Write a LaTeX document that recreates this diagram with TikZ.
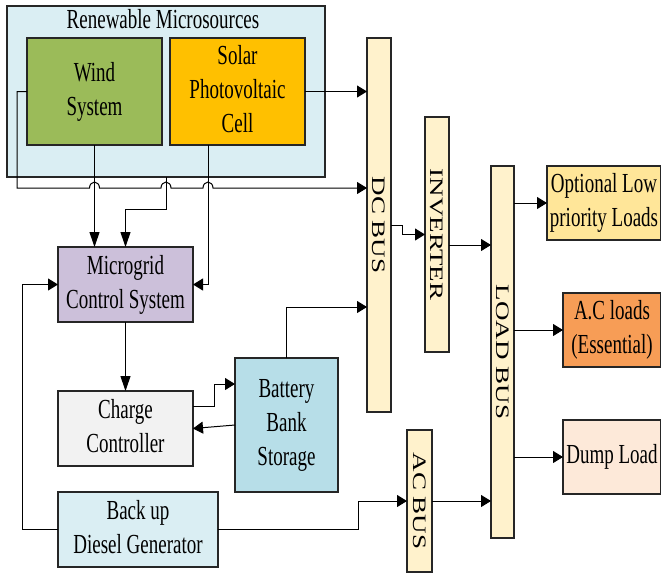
\documentclass[tikz,border=0pt]{standalone}
\usepackage{fontspec}
\setmainfont{Liberation Serif}
\usepackage{graphicx}
\usetikzlibrary{arrows.meta,calc}
\definecolor{renfill}{HTML}{DAEEF3}
\definecolor{windfill}{HTML}{9BBB59}
\definecolor{solarfill}{HTML}{FFC000}
\definecolor{busfill}{HTML}{FFF2CC}
\definecolor{mcsfill}{HTML}{CCC0DA}
\definecolor{ccfill}{HTML}{F2F2F2}
\definecolor{batfill}{HTML}{B7DEE8}
\definecolor{dgfill}{HTML}{DAEEF3}
\definecolor{optfill}{HTML}{FFE699}
\definecolor{aclfill}{HTML}{F79D56}
\definecolor{dumpfill}{HTML}{FDE9D9}
\definecolor{boxline}{HTML}{262626}
\newcommand\tx[1]{\scalebox{1}[1.45]{\begin{tabular}{@{}c@{}}#1\end{tabular}}}
\newcommand\rt[1]{\scalebox{1}[1.42]{\rotatebox{-90}{#1}}}
\begin{document}
\begin{tikzpicture}[x=1pt,y=-1pt,
  every node/.style={font=\fontsize{19}{23.5}\selectfont},
  box/.style={draw=boxline, line width=1.1pt, inner sep=0pt, outer sep=0pt},
  conn/.style={line width=1pt, draw=black},
  arrH/.style={conn, -{Triangle[length=10pt,width=12pt]}},
  arrV/.style={conn, -{Triangle[length=15pt,width=10pt]}}]
\useasboundingbox (0,0) rectangle (661,574);
% boxes
\node[box, fill=renfill, minimum width=318pt, minimum height=171pt] (ren) at (166,91.5) {};
\node (renlbl) at (163,22) {\tx{Renewable Microsources}};
\node[box, fill=windfill, minimum width=135pt, minimum height=107pt] (wind) at (94.5,91.5) {\tx{Wind\\System}};
\node[box, fill=solarfill, minimum width=135pt, minimum height=107pt] (solar) at (237.5,91.5) {\tx{Solar\\Photovoltaic\\Cell}};
\node[box, fill=busfill, minimum width=24pt, minimum height=374pt] (dcbus) at (379,225) {\rt{DC BUS}};
\node[box, fill=busfill, minimum width=24pt, minimum height=235pt] (inv) at (437,234.5) {\rt{INVERTER}};
\node[box, fill=busfill, minimum width=23pt, minimum height=372pt] (loadbus) at (502.5,352) {\rt{LOAD BUS}};
\node[box, fill=busfill, minimum width=25pt, minimum height=142pt] (acbus) at (419.5,501) {\rt{AC BUS}};
\node[box, fill=mcsfill, minimum width=135pt, minimum height=75pt] (mcs) at (125.5,284.5) {\tx{Microgrid\\Control System}};
\node[box, fill=ccfill, minimum width=135pt, minimum height=75pt] (cc) at (125.5,428.5) {\tx{Charge\\Controller}};
\node[box, fill=batfill, minimum width=103pt, minimum height=134pt] (bat) at (286.5,425) {\tx{Battery\\Bank\\Storage}};
\node[box, fill=dgfill, minimum width=160pt, minimum height=75pt] (dg) at (138,529.5) {\tx{Back up\\Diesel Generator}};
\node[box, fill=optfill, minimum width=114pt, minimum height=74pt] (opt) at (604,203) {\tx{Optional Low\\priority Loads}};
\node[box, fill=aclfill, minimum width=98pt, minimum height=74pt] (acl) at (612,330) {\tx{A.C loads\\(Essential)}};
\node[box, fill=dumpfill, minimum width=98pt, minimum height=74pt] (dump) at (612,457) {\tx{Dump Load}};
% helper coordinates
\coordinate (hy) at (0,188);
\coordinate (sv) at ($(solar.south)+(-29.5,0)$);
% connectors
\draw[arrH] (solar.east) -- (solar.east -| dcbus.west);
\draw[arrH] (wind.west) -- ++(-10,0) |- ($(hy -| wind.south)+(-5,0)$)
  arc[start angle=180,end angle=360,x radius=5,y radius=6]
  -- ($(hy -| ren.south)+(-5,0)$)
  arc[start angle=180,end angle=360,x radius=5,y radius=6]
  -- ($(hy -| sv)+(-5,0)$)
  arc[start angle=180,end angle=360,x radius=5,y radius=6]
  -- (hy -| dcbus.west);
\draw[arrV] (wind.south) -- (wind.south |- mcs.north);
\draw[arrV] (ren.south) -- ++(0,32) -| (mcs.north);
\draw[arrH] (sv) |- (mcs.east);
\draw[arrH] (dg.west) -- ++(-36,0) |- (mcs.west);
\draw[arrV] (mcs.south) -- (cc.north);
\draw[arrH] ([yshift=22.5pt]cc.east) -- ++(21,0) |- ([yshift=41pt]bat.west);
\draw[arrH] (bat.west) -- (cc.east);
\draw[arrH] (bat.north) |- ([yshift=-82pt]dcbus.west);
\draw[arrH] (dcbus.east) -- ++(11,0) |- (inv.west);
\draw[arrH] ([yshift=-10.5pt]inv.east) -- ([yshift=-10.5pt]inv.east -| loadbus.west);
\draw[arrH] (acbus.east) -- (acbus.east -| loadbus.west);
\draw[arrH] (dg.east) -- ++(140,0) |- (acbus.west);
\draw[arrH] (opt.west -| loadbus.east) -- (opt.west);
\draw[arrH] (acl.west -| loadbus.east) -- (acl.west);
\draw[arrH] (dump.west -| loadbus.east) -- (dump.west);
\end{tikzpicture}
\end{document}
